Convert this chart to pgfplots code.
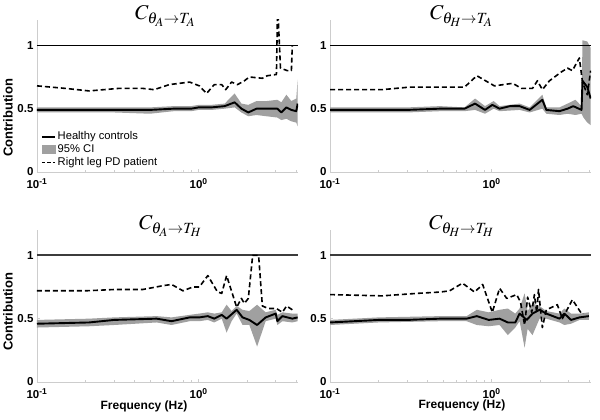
\documentclass[border=0pt]{standalone}
\usepackage{mathptmx}
\usepackage[no-math]{fontspec}
\setmainfont{Liberation Sans}
\usepackage{pgfplots}
\pgfplotsset{compat=1.18}
\definecolor{cigray}{RGB}{160,160,160}
\definecolor{axgray}{RGB}{205,205,205}
\definecolor{onegray}{RGB}{60,60,60}

\pgfplotsset{
 every axis/.append style={
  scale only axis, width=261pt, height=152pt,
  xmode=log, xmin=0.1, xmax=4.12, ymin=0, ymax=1.2,
  axis x line*=bottom, axis y line*=left,
  axis line style={-, axgray, line width=0.6pt},
  tick style={axgray, line width=0.5pt},
  major tick length=3pt, minor tick length=2pt, tick align=inside,
  xtick={0.1,1}, xticklabels={10\textsuperscript{-1},10\textsuperscript{0}},
  minor xtick={0.2,0.3,0.4,0.5,0.6,0.7,0.8,0.9,2,3,4},
  ytick={0,0.5,1}, yticklabels={0,0.5,1},
  ticklabel style={font=\fontsize{11.5}{13}\selectfont\bfseries, text=black},
  xticklabel style={yshift=-3pt},
 },
}
\tikzset{
 hcline/.style={black, line width=1.9pt, line join=round},
 pdline/.style={black, line width=1.6pt, line join=round, dash pattern=on 5pt off 3pt},
 ciarea/.style={fill=cigray, draw=none},
}

\begin{document}
\begin{tikzpicture}[x=1pt,y=1pt]
\path[use as bounding box] (0,0) rectangle (600,420);

% ---------------- Panel 1 ----------------
\begin{axis}[at={(37pt,248pt)}, anchor=south west,
  legend style={draw=none, fill=none, at={(0.01,0.285)}, anchor=north west,
    font=\fontsize{11.2}{12}\selectfont, row sep=-0.5pt, inner sep=1pt},
  legend cell align=left]
\addplot[ciarea, forget plot] coordinates {
 (0.1,0.51) (0.3,0.51) (0.5,0.51) (0.7,0.52) (0.9,0.52) (1.0,0.53) (1.2,0.53) (1.45,0.54)
 (1.67,0.62) (1.84,0.54) (2.03,0.53) (2.28,0.56) (2.63,0.56) (3.07,0.57) (3.25,0.55)
 (3.49,0.61) (3.75,0.56) (4.02,0.58) (4.1,0.73)
 (4.1,0.36) (4.02,0.39) (3.75,0.40) (3.49,0.42) (3.25,0.41) (3.07,0.43) (2.63,0.44)
 (2.28,0.45) (2.03,0.44) (1.84,0.47) (1.67,0.51) (1.45,0.50) (1.2,0.49) (1.0,0.49)
 (0.9,0.48) (0.7,0.48) (0.5,0.46) (0.3,0.47) (0.1,0.47)};
\addplot[black, line width=1.4pt, forget plot] coordinates {(0.1,1) (4.12,1)};
\addplot[hcline, forget plot] coordinates {
 (0.1,0.49) (0.3,0.49) (0.5,0.49) (0.7,0.50) (0.9,0.50) (1.0,0.51) (1.2,0.51) (1.45,0.52)
 (1.67,0.55) (1.84,0.50) (2.03,0.47) (2.28,0.50) (2.63,0.50) (3.07,0.50) (3.25,0.47)
 (3.49,0.51) (3.75,0.49) (4.02,0.48) (4.1,0.54)};
\addplot[pdline, forget plot] coordinates {
 (0.1,0.68) (0.15,0.66) (0.21,0.64) (0.32,0.66) (0.45,0.66) (0.53,0.65) (0.66,0.69)
 (0.88,0.71) (1.01,0.68) (1.12,0.62) (1.25,0.69) (1.39,0.69) (1.47,0.65) (1.60,0.71)
 (1.74,0.69) (1.92,0.72) (2.06,0.75) (2.48,0.74) (2.66,0.76) (3.03,0.77) (3.07,1.21)
 (3.11,1.21) (3.21,0.82) (3.54,0.80) (3.75,0.80) (3.80,1.0)};
\addlegendimage{legend image code/.code={\draw[black,line width=1.9pt] (0pt,0pt) -- (13pt,0pt);}}
\addlegendentry{Healthy controls}
\addlegendimage{legend image code/.code={\fill[cigray] (0pt,-4pt) rectangle (13pt,4pt);}}
\addlegendentry{95\% CI}
\addlegendimage{legend image code/.code={\draw[black,line width=1.5pt,dash pattern=on 3.5pt off 2pt] (0pt,0pt) -- (13pt,0pt);}}
\addlegendentry{Right leg PD patient}
\end{axis}

% ---------------- Panel 2 ----------------
\begin{axis}[at={(330pt,248pt)}, anchor=south west]
\addplot[ciarea] coordinates {
 (0.1,0.51) (0.3,0.51) (0.48,0.52) (0.68,0.51) (0.79,0.58) (0.91,0.52) (1.03,0.56)
 (1.12,0.52) (1.49,0.54) (1.72,0.51) (2.06,0.61) (2.18,0.51) (2.63,0.51) (2.95,0.54)
 (3.3,0.57) (3.6,0.52) (3.65,1.04) (3.91,1.03) (4.1,0.98)
 (4.1,0.37) (3.91,0.39) (3.7,0.43) (3.6,0.46) (3.3,0.45) (2.95,0.46) (2.63,0.45)
 (2.18,0.46) (2.06,0.50) (1.72,0.47) (1.49,0.49) (1.12,0.48) (1.03,0.50) (0.91,0.46)
 (0.79,0.49) (0.68,0.48) (0.48,0.48) (0.3,0.47) (0.1,0.47)};
\addplot[black, line width=1.4pt] coordinates {(0.1,1) (4.12,1)};
\addplot[hcline] coordinates {
 (0.1,0.49) (0.3,0.49) (0.48,0.50) (0.68,0.50) (0.79,0.54) (0.91,0.49) (1.01,0.53)
 (1.12,0.50) (1.30,0.52) (1.49,0.52) (1.72,0.49) (2.06,0.57) (2.18,0.49) (2.63,0.48)
 (2.95,0.50) (3.2,0.52) (3.6,0.49) (3.65,0.72) (3.91,0.67) (4.1,0.58)};
\addplot[pdline] coordinates {
 (0.1,0.65) (0.21,0.65) (0.31,0.67) (0.48,0.67) (0.68,0.67) (0.81,0.76) (1.04,0.68)
 (1.35,0.70) (1.53,0.66) (1.79,0.66) (1.92,0.72) (2.06,0.65) (2.28,0.72) (2.70,0.79)
 (2.95,0.82) (3.16,0.80) (3.49,0.90) (3.65,0.71) (3.91,0.61) (4.1,0.80)};
\end{axis}

% ---------------- Panel 3 ----------------
\begin{axis}[at={(37pt,38pt)}, anchor=south west]
\addplot[ciarea] coordinates {
 (0.1,0.49) (0.21,0.50) (0.3,0.51) (0.55,0.52) (0.68,0.51) (0.88,0.53) (1.01,0.54)
 (1.14,0.55) (1.25,0.54) (1.39,0.55) (1.49,0.61) (1.6,0.56) (1.72,0.60) (1.87,0.57)
 (2.06,0.56) (2.30,0.61) (2.6,0.55) (3.0,0.57) (3.07,0.53) (3.3,0.55) (3.8,0.54) (4.1,0.54)
 (4.1,0.48) (3.8,0.47) (3.3,0.48) (3.07,0.45) (3.0,0.50) (2.6,0.48) (2.30,0.28) (2.06,0.45)
 (1.87,0.45) (1.72,0.54) (1.6,0.48) (1.49,0.39) (1.39,0.50) (1.25,0.47) (1.14,0.49)
 (1.01,0.48) (0.88,0.48) (0.68,0.45) (0.55,0.47) (0.3,0.45) (0.21,0.44) (0.1,0.43)};
\addplot[onegray, line width=1.8pt] coordinates {(0.1,1) (4.12,1)};
\addplot[hcline] coordinates {
 (0.1,0.46) (0.21,0.47) (0.3,0.49) (0.55,0.50) (0.68,0.48) (0.88,0.51) (1.01,0.51)
 (1.14,0.52) (1.25,0.50) (1.39,0.53) (1.49,0.50) (1.72,0.57) (1.87,0.51) (2.06,0.49)
 (2.30,0.45) (2.6,0.51) (3.0,0.54) (3.07,0.48) (3.3,0.52) (3.8,0.50) (4.1,0.51)};
\addplot[pdline] coordinates {
 (0.1,0.72) (0.2,0.72) (0.3,0.73) (0.45,0.73) (0.6,0.76) (0.68,0.77) (0.8,0.72)
 (0.92,0.75) (1.01,0.75) (1.14,0.84) (1.31,0.71) (1.39,0.70) (1.49,0.84) (1.72,0.59)
 (1.84,0.66) (1.92,0.62) (2.03,0.66) (2.16,1.0) (2.35,1.0) (2.48,0.60) (2.70,0.58)
 (3.03,0.58) (3.3,0.55) (3.5,0.60) (3.8,0.57)};
\end{axis}

% ---------------- Panel 4 ----------------
\begin{axis}[at={(330pt,38pt)}, anchor=south west]
\addplot[ciarea] coordinates {
 (0.1,0.49) (0.2,0.51) (0.48,0.52) (0.70,0.52) (0.81,0.57) (0.96,0.55) (1.12,0.57)
 (1.26,0.58) (1.40,0.54) (1.49,0.58) (1.60,0.70) (1.67,0.56) (1.79,0.62) (1.98,0.60)
 (2.18,0.56) (2.63,0.54) (2.82,0.58) (3.1,0.54) (3.5,0.54) (4.0,0.55)
 (4.0,0.49) (3.5,0.49) (3.1,0.46) (2.82,0.45) (2.63,0.47) (2.18,0.50) (1.98,0.50)
 (1.79,0.37) (1.67,0.42) (1.60,0.27) (1.49,0.48) (1.40,0.43) (1.26,0.37) (1.12,0.45)
 (0.96,0.44) (0.81,0.45) (0.70,0.48) (0.48,0.48) (0.2,0.47) (0.1,0.45)};
\addplot[onegray, line width=1.8pt] coordinates {(0.1,1) (4.12,1)};
\addplot[hcline] coordinates {
 (0.1,0.47) (0.2,0.49) (0.3,0.49) (0.48,0.50) (0.70,0.50) (0.81,0.52) (0.96,0.49)
 (1.12,0.50) (1.26,0.47) (1.40,0.47) (1.49,0.54) (1.65,0.49) (1.79,0.54) (1.98,0.57)
 (2.18,0.54) (2.63,0.50) (2.82,0.54) (3.1,0.49) (3.5,0.51) (4.0,0.52)};
\addplot[pdline] coordinates {
 (0.1,0.69) (0.21,0.68) (0.35,0.70) (0.48,0.71) (0.55,0.72) (0.66,0.78) (0.785,0.71)
 (0.88,0.77) (1.01,0.55) (1.12,0.74) (1.24,0.66) (1.43,0.69) (1.51,0.63) (1.60,0.45)
 (1.67,0.67) (1.77,0.55) (1.84,0.69) (1.90,0.55) (1.95,0.73) (2.06,0.43) (2.18,0.57)
 (2.55,0.61) (2.74,0.50) (3.16,0.65) (3.60,0.54) (3.70,0.54)};
\end{axis}

% ---------------- Titles and labels ----------------
\node[anchor=base west, inner sep=0pt] at (135,400) {\fontsize{21}{24}\selectfont $C_{\theta_A\rightarrow T_A}$};
\node[anchor=base west, inner sep=0pt] at (430,400) {\fontsize{21}{24}\selectfont $C_{\theta_H\rightarrow T_A}$};
\node[anchor=base west, inner sep=0pt] at (139,190) {\fontsize{21}{24}\selectfont $C_{\theta_A\rightarrow T_H}$};
\node[anchor=base west, inner sep=0pt] at (429,190) {\fontsize{21}{24}\selectfont $C_{\theta_H\rightarrow T_H}$};
\node[rotate=90, anchor=center, inner sep=0pt] at (8,302) {\fontsize{13}{15}\selectfont\bfseries Contribution};
\node[rotate=90, anchor=center, inner sep=0pt] at (8,108) {\fontsize{13}{15}\selectfont\bfseries Contribution};
\node[anchor=base, inner sep=0pt] at (144,10) {\fontsize{12}{14}\selectfont\bfseries Frequency (Hz)};
\node[anchor=base, inner sep=0pt] at (462,11) {\fontsize{12}{14}\selectfont\bfseries Frequency (Hz)};
\end{tikzpicture}
\end{document}
